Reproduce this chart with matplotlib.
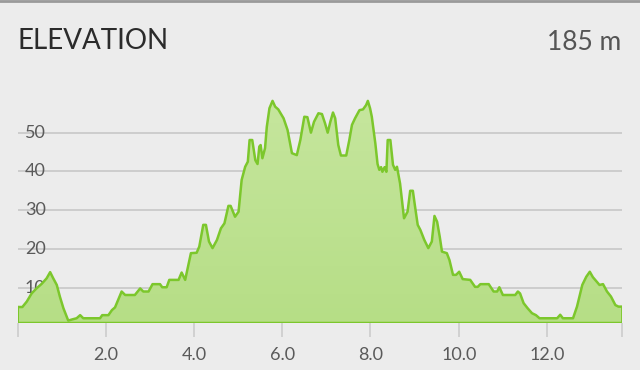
import numpy as np
import matplotlib
matplotlib.use("Agg")
import matplotlib.pyplot as plt
from matplotlib.colors import LinearSegmentedColormap

# distance (km) and elevation (m)
dist_km = [0.00, 0.11, 0.21, 0.32, 0.43, 0.55, 0.66, 0.74, 0.81, 0.89, 0.96, 1.04, 1.15, 1.24,
           1.34, 1.42, 1.49, 1.87, 1.92, 2.06, 2.14, 2.21, 2.36, 2.44, 2.66, 2.78, 2.85, 2.97,
           3.06, 3.23, 3.28, 3.38, 3.44, 3.65, 3.72, 3.80, 3.93, 4.06, 4.12, 4.21, 4.27, 4.34,
           4.42, 4.52, 4.61, 4.69, 4.78, 4.83, 4.93, 5.01, 5.08, 5.16, 5.22, 5.26, 5.32, 5.39,
           5.44, 5.48, 5.51, 5.55, 5.61, 5.65, 5.71, 5.78, 5.84, 5.91, 6.03, 6.12, 6.22, 6.33,
           6.41, 6.50, 6.57, 6.65, 6.72, 6.82, 6.90, 6.97, 7.03, 7.09, 7.15, 7.20, 7.27, 7.33,
           7.45, 7.52, 7.58, 7.65, 7.75, 7.83, 7.90, 7.94, 7.99, 8.03, 8.11, 8.16, 8.20, 8.24,
           8.27, 8.32, 8.36, 8.39, 8.45, 8.51, 8.56, 8.60, 8.67, 8.76, 8.84, 8.90, 8.96, 9.01,
           9.07, 9.13, 9.22, 9.31, 9.39, 9.45, 9.51, 9.57, 9.62, 9.73, 9.79, 9.87, 9.94, 10.01,
           10.09, 10.26, 10.37, 10.43, 10.49, 10.68, 10.79, 10.87, 10.92, 11.00, 11.28, 11.34,
           11.39, 11.47, 11.56, 11.66, 11.75, 11.83, 12.23, 12.30, 12.36, 12.59, 12.68, 12.80,
           12.89, 12.97, 13.04, 13.13, 13.19, 13.27, 13.36, 13.45, 13.55, 13.62, 13.70]
elev_m = [5.0, 5.0, 6.4, 8.5, 9.8, 11.0, 12.4, 14.0, 12.4, 10.7, 7.7, 4.7, 1.5, 1.8,
          2.1, 2.9, 2.1, 2.1, 2.9, 2.9, 4.2, 4.9, 9.0, 8.1, 8.1, 9.8, 9.0, 9.0,
          10.9, 10.9, 10.1, 10.1, 12.0, 12.0, 13.9, 12.0, 18.9, 19.0, 20.6, 26.2, 26.2, 21.9,
          20.2, 22.3, 25.3, 26.6, 31.1, 31.1, 28.3, 29.6, 37.8, 41.2, 42.5, 48.1, 48.1, 42.9,
          41.9, 46.4, 46.8, 43.4, 46.0, 51.5, 56.3, 58.2, 56.7, 56.0, 53.7, 50.7, 44.7, 44.2,
          48.1, 54.1, 54.0, 50.0, 52.8, 55.0, 54.8, 52.4, 50.0, 52.8, 55.2, 53.7, 46.8, 44.1,
          44.1, 48.1, 52.0, 53.7, 55.8, 56.0, 57.1, 58.2, 56.3, 54.1, 47.2, 41.9, 40.4, 41.1,
          39.9, 41.1, 39.9, 48.1, 48.1, 41.7, 40.4, 41.2, 36.9, 27.9, 29.6, 35.0, 35.0, 30.9,
          26.2, 24.9, 22.3, 20.2, 21.9, 28.5, 27.0, 23.1, 19.3, 18.9, 17.1, 13.3, 13.3, 14.1,
          12.2, 12.0, 10.2, 10.2, 10.9, 10.9, 9.0, 9.0, 10.1, 8.1, 8.1, 9.0,
          8.5, 6.0, 4.7, 3.4, 2.9, 2.1, 2.1, 3.0, 2.1, 2.1, 5.1, 10.7,
          12.8, 14.1, 12.7, 11.5, 10.7, 10.9, 9.0, 7.7, 5.5, 5.1, 5.1]

x_ticks = [2, 4, 6, 8, 10, 12]
x_tick_labels = ["2.0", "4.0", "6.0", "8.0", "10.0", "12.0"]
y_ticks = [10, 20, 30, 40, 50]
y_tick_labels = ["10", "20", "30", "40", "50"]
title_text = "ELEVATION"
total_text = "185 m"

plt.rcParams['font.family'] = ['Lato', 'DejaVu Sans']

BG = '#ececec'
LINE = '#7cc72c'
x = np.array(dist_km)
y = np.array(elev_m)
ymin, ymax = 0.9, 60.0
xmax = x[-1]

fig = plt.figure(figsize=(6.4, 3.7), dpi=100, facecolor=BG)
ax = fig.add_axes([17.5 / 640, 1 - 322.9 / 370, (622 - 17.5) / 640, (322.9 - 93.9) / 370])
ax.set_facecolor(BG)
ax.set_xlim(0, xmax)
ax.set_ylim(ymin, ymax)
for s in ax.spines.values():
    s.set_visible(False)

# gridlines
for yt, lab in zip(y_ticks, y_tick_labels):
    ax.axhline(yt, color='#cdcdcd', lw=1.4, zorder=1)
    ax.text(0.17, yt, lab, ha='left', va='center', fontsize=13, color='#5a5a5a', zorder=1.5)

# gradient fill
poly = ax.fill_between(x, ymin, y, color='none', lw=0, zorder=2)
cmap = LinearSegmentedColormap.from_list('g', ['#b6de86', '#c6e69e'])
grad = np.linspace(0, 1, 256).reshape(-1, 1)
im = ax.imshow(grad, extent=[0, xmax, ymin, 60], origin='lower', aspect='auto', cmap=cmap, zorder=2)
path = poly.get_paths()[0]
im.set_clip_path(path, transform=ax.transData)

ax.plot(x, y, color=LINE, lw=1.8, zorder=3, solid_joinstyle='round')
ax.plot([0, xmax], [ymin, ymin], color=LINE, lw=2.5, zorder=3)
ax.plot([0, 0], [ymin, y[0]], color=LINE, lw=1.5, zorder=3)
ax.plot([xmax, xmax], [ymin, y[-1]], color=LINE, lw=2.0, zorder=3)

# x ticks
ax.set_yticks([])
ax.set_xticks([0] + x_ticks + [xmax])
ax.set_xticklabels([""] + x_tick_labels + [""], fontsize=13, color='#5a5a5a')
ax.tick_params(axis='x', length=10, width=1.2, color='#cccccc', pad=7)

fig.text(18 / 640, 1 - 41 / 370, title_text, ha='left', va='center', fontsize=20, color='#2b2b2b')
fig.text(621 / 640, 1 - 42 / 370, total_text, ha='right', va='center', fontsize=19, color='#555555')
fig.add_artist(plt.Line2D([0, 1], [1 - 1 / 370, 1 - 1 / 370], transform=fig.transFigure, color='#9a9a9a', lw=2))

fig.savefig('out.png', dpi=100, facecolor=BG)
